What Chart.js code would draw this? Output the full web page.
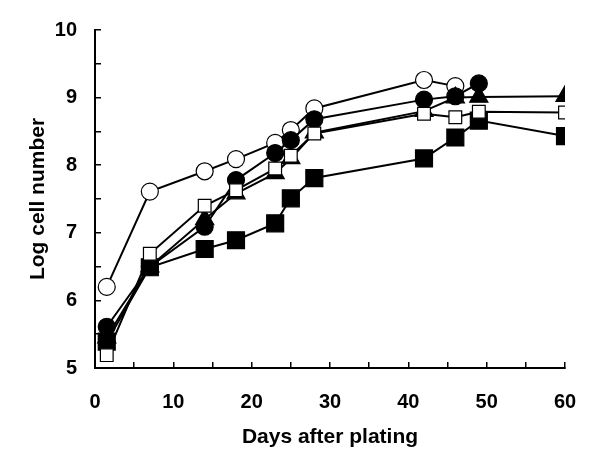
<!DOCTYPE html>
<html><head><meta charset="utf-8">
<script src="https://cdn.jsdelivr.net/npm/chart.js@4/dist/chart.umd.min.js"></script>
<style>html,body{margin:0;padding:0;background:#fff}#wrap{width:600px;height:455px}</style>
</head><body><div id="wrap"><canvas id="c" width="600" height="455"></canvas></div>
<script>
const days = [1.5, 7, 14, 18, 23, 25, 28, 42, 46, 49, 60];
const openSquare = [5.19, 6.69, 7.40, 7.63, 7.95, 8.14, 8.47, 8.76, 8.71, 8.79, 8.78];
const filledSquare = [5.39, 6.49, 6.76, 6.89, 7.14, 7.51, 7.81, 8.10, 8.41, 8.66, 8.43];
const filledCircle = [5.61, 6.50, 7.09, 7.78, 8.18, 8.37, 8.68, 8.97, 9.02, 9.21, null];
const filledTriangle = [5.45, 6.50, 7.20, 7.58, 7.88, 8.10, 8.48, 8.80, 9.00, 9.01, 9.02];
const openCircle = [6.20, 7.61, 7.91, 8.09, 8.33, 8.52, 8.84, 9.26, 9.17, null, null];
const xTicks = [0, 10, 20, 30, 40, 50, 60];
const yTicks = [5, 6, 7, 8, 9, 10];

function pts(vals){ return days.map((d,i)=>({x:d,y:vals[i]})).filter(p=>p.y!==null); }
function ds(vals, style, radius, fill){
  return {data: pts(vals), borderColor:'#000', borderWidth:2,
    pointStyle: style, pointRadius: radius, pointHoverRadius: radius,
    pointBackgroundColor: fill, pointBorderColor:'#000', pointBorderWidth:1.2,
    showLine:true, tension:0, fill:false};
}
const tickFont = {family:'"Liberation Sans", Arial, sans-serif', size:20, weight:'bold'};
const titleFont = {family:'"Liberation Sans", Arial, sans-serif', size:21, weight:'bold'};
new Chart(document.getElementById('c'), {
  type:'scatter',
  data:{datasets:[
    ds(openSquare,'rect',9,'#fff'),
    ds(filledSquare,'rect',12,'#000'),
    ds(filledCircle,'circle',8.5,'#000'),
    ds(filledTriangle,'triangle',10.5,'#000'),
    ds(openCircle,'circle',8.5,'#fff')
  ]},
  options:{
    responsive:false, animation:false,
    layout:{padding:{left:26, right:35, top:30, bottom:0}},
    plugins:{legend:{display:false}, tooltip:{enabled:false}},
    scales:{
      x:{type:'linear', min:0, max:60,
        afterFit:(s)=>{s.height=87; s.paddingLeft=0; s.paddingRight=0;},
        ticks:{stepSize:5, color:'#000', font:tickFont, padding:28, maxRotation:0, autoSkip:false,
          callback:(v)=> xTicks.includes(v) ? String(v) : ''},
        grid:{drawOnChartArea:false, tickLength:-6, color:'#000', lineWidth:1.5},
        border:{color:'#000', width:2},
        title:{display:true, text:'Days after plating', color:'#000', font:titleFont, padding:{top:0,bottom:5}}
      },
      y:{type:'linear', min:5, max:10,
        afterFit:(s)=>{s.width=69; s.paddingTop=0; s.paddingBottom=0;},
        ticks:{stepSize:0.5, color:'#000', font:tickFont, padding:24, autoSkip:false,
          callback:(v)=> yTicks.includes(v) ? String(v) : ''},
        grid:{drawOnChartArea:false, tickLength:-6, color:'#000', lineWidth:1.5},
        border:{color:'#000', width:2},
        title:{display:true, text:'Log cell number', color:'#000', font:titleFont, padding:{top:0,bottom:0}}
      }
    }
  }
});
</script>
</body></html>
